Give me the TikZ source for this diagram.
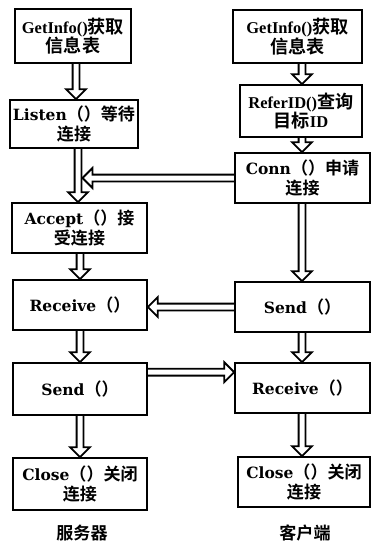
\documentclass[tikz,border=0pt]{standalone}
\usepackage{fontspec}
\setmainfont{DejaVu Serif}
\newfontfamily\tnr{Liberation Serif}
\newfontfamily\cjk[Scale=1.1,BoldFont={* Bold}]{Noto Sans CJK SC}
\usetikzlibrary{calc}
\newcommand{\zh}[1]{{\cjk\bfseries #1}}
\def\sw{3.4pt}
\def\hw{10pt}
\def\hl{10pt}
\begin{document}
\begin{tikzpicture}[x=1pt,y=-1pt,
  box/.style={draw, line width=1.6pt, align=center, inner sep=0pt,
    font=\bfseries\fontsize{15.5}{19.5}\selectfont},
  nbox/.style={box, font=\bfseries\fontsize{16.5}{19.5}\selectfont\tnr},
  arrbase/.style={draw, line width=1.8pt, line join=miter},
  adown/.style={arrbase, to path={let \p1=(\tikztostart), \p2=(\tikztotarget) in
    ({\x1-\sw},{\y1}) -- ({\x1-\sw},{\y2+\hl}) -- ({\x1-\hw},{\y2+\hl}) -- ({\x1},{\y2})
    -- ({\x1+\hw},{\y2+\hl}) -- ({\x1+\sw},{\y2+\hl}) -- ({\x1+\sw},{\y1})}},
  aleft/.style={arrbase, to path={let \p1=(\tikztostart), \p2=(\tikztotarget) in
    ({\x1},{\y1+\sw}) -- ({\x2+\hl},{\y1+\sw}) -- ({\x2+\hl},{\y1+\hw}) -- ({\x2},{\y1})
    -- ({\x2+\hl},{\y1-\hw}) -- ({\x2+\hl},{\y1-\sw}) -- ({\x1},{\y1-\sw})}},
  aright/.style={arrbase, to path={let \p1=(\tikztostart), \p2=(\tikztotarget) in
    ({\x1},{\y1+\sw}) -- ({\x2-\hl},{\y1+\sw}) -- ({\x2-\hl},{\y1+\hw}) -- ({\x2},{\y1})
    -- ({\x2-\hl},{\y1-\hw}) -- ({\x2-\hl},{\y1-\sw}) -- ({\x1},{\y1-\sw})}},
  lab/.style={font=\bfseries\fontsize{15.5}{19}\selectfont}]
\useasboundingbox (0,0) rectangle (371,547);
% left column (server)
\node[nbox, minimum width=116pt, minimum height=54pt] (L1) at (73,36) {GetInfo()\zh{获取}\\\zh{信息表}};
\node[box, minimum width=128pt, minimum height=48pt] (L2) at (74,124) {Listen\zh{（）等待}\\\zh{连接}};
\node[box, minimum width=135pt, minimum height=50pt] (L3) at (79.5,228) {Accept\zh{（）接}\\\zh{受连接}};
\node[box, minimum width=134pt, minimum height=50pt] (L4) at (80,305) {Receive\zh{（）}};
\node[box, minimum width=134pt, minimum height=52pt] (L5) at (80,389) {Send\zh{（）}};
\node[box, minimum width=134pt, minimum height=52pt] (L6) at (80,484) {Close\zh{（）关闭}\\\zh{连接}};
% right column (client)
\node[nbox, minimum width=129pt, minimum height=53pt] (R1) at (297.5,36.5) {GetInfo()\zh{获取}\\\zh{信息表}};
\node[nbox, minimum width=122pt, minimum height=52pt] (R2) at (301,111) {ReferID()\zh{查询}\\\zh{目标}ID};
\node[box, minimum width=135pt, minimum height=50pt] (R3) at (302.5,178) {Conn\zh{（）申请}\\\zh{连接}};
\node[box, minimum width=135pt, minimum height=50pt] (R4) at (302.5,307) {Send\zh{（）}};
\node[box, minimum width=135pt, minimum height=50pt] (R5) at (302.5,388) {Receive\zh{（）}};
\node[box, minimum width=132pt, minimum height=50pt] (R6) at (304,482) {Close\zh{（）关闭}\\\zh{连接}};
% captions
\node[lab] (ls) at (82,533) {\zh{服务器}};
\node[lab] (rs) at (305,533) {\zh{客户端}};
% helper columns
\coordinate (lxa) at (76,0);
\coordinate (lxb) at (78,0);
\coordinate (lx) at (80,0);
\coordinate (rx) at (302,0);
\coordinate (tip) at (82.5,0);
% vertical arrows
\draw[adown] (L1.south -| lxa) to (L2.north -| lxa);
\draw[adown] (L2.south -| lxb) to (L3.north -| lxb);
\draw[adown] (L3.south -| lx) to (L4.north -| lx);
\draw[adown] (L4.south -| lx) to (L5.north -| lx);
\draw[adown] (L5.south -| lx) to (L6.north -| lx);
\draw[adown] (R1.south -| rx) to (R2.north -| rx);
\draw[adown] (R2.south -| rx) to (R3.north -| rx);
\draw[adown] (R3.south -| rx) to (R4.north -| rx);
\draw[adown] (R4.south -| rx) to (R5.north -| rx);
\draw[adown] (R5.south -| rx) to (R6.north -| rx);
% horizontal arrows
\draw[aleft] (R3.west) to (R3.west -| tip);
\draw[aleft] (R4.west) to (R4.west -| L4.east);
\draw[aright] ([yshift=-10pt]L5.north east) to ([yshift=-10pt]L5.north east -| R5.west);
\end{tikzpicture}
\end{document}
